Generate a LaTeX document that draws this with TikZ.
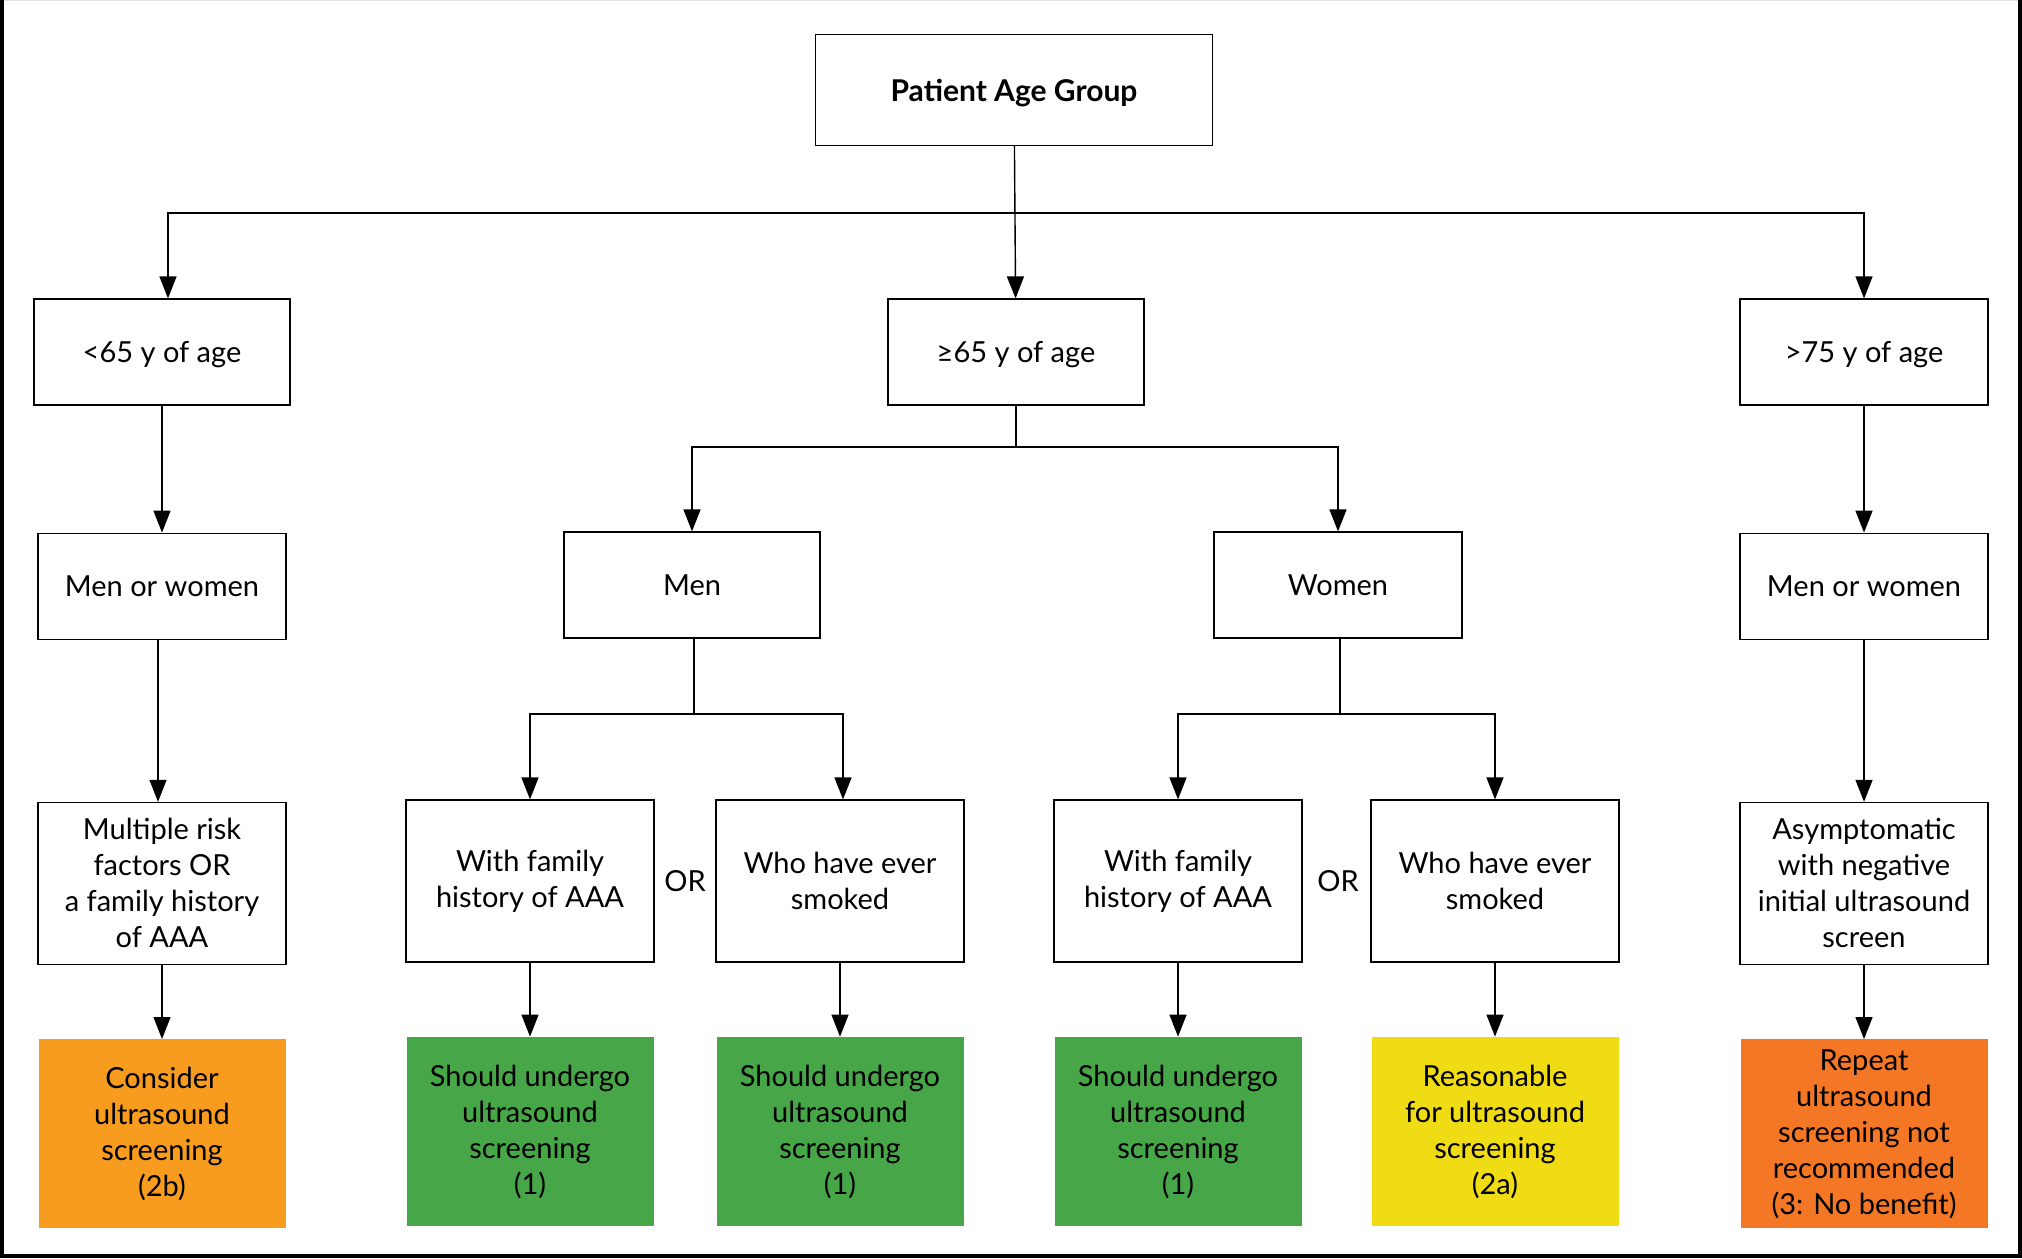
\documentclass[tikz,border=0pt]{standalone}
\usepackage{fontspec}
\setmainfont{Lato}
\usetikzlibrary{arrows.meta,positioning}
\definecolor{recOne}{HTML}{47A647}
\definecolor{recTwoA}{HTML}{F0DC14}
\definecolor{recTwoB}{HTML}{F89C20}
\definecolor{recThree}{HTML}{F47725}

\begin{document}
\begin{tikzpicture}[x=0.5pt,y=-0.5pt,
  >={Triangle[length=11pt,width=8.5pt]}, node distance=37pt,
  box/.style={draw,line width=0.6pt,align=center,font=\fontsize{14.5}{18}\selectfont,minimum width=124pt,minimum height=53pt,inner sep=2pt},
  oneline/.style={box,text depth=0pt},
  agebox/.style={oneline,minimum width=128pt},
  critbox/.style={box,minimum height=81pt},
  recbox/.style={align=center,font=\fontsize{14.5}{18}\selectfont,minimum width=123.5pt,minimum height=94.5pt,inner sep=2pt},
  link/.style={line width=0.7pt}]
  \useasboundingbox (0,0) rectangle (2022,1258);
  % frame
  \draw[black!12,line width=0.5pt] (0,0.5) -- (2022,0.5);
  \draw[line width=2pt] (1.5,0) -- (1.5,1256) -- (2020,1256) -- (2020,0);

  \node[oneline,minimum width=198.5pt,minimum height=55.5pt,font=\fontsize{15}{18}\selectfont\bfseries] (age) at (1014,90) {Patient Age Group};

  % age groups
  \node[agebox] (lt65) at (162,352) {<65 y of age};
  \node[agebox] (ge65) at (1016,352) {≥65 y of age};
  \node[oneline] (gt75) at (1864,352) {>75 y of age};

  % sex
  \node[oneline,below=63.5pt of lt65] (mwA) {Men or women};
  \node[agebox] (men) at (692,585) {Men};
  \node[oneline] (women) at (1338,585) {Women};
  \node[oneline,below=63.5pt of gt75] (mwD) {Men or women};

  % criteria
  \node[critbox,below=81pt of mwA] (riskA) {Multiple risk\\factors OR\\a family history\\of AAA};
  \node[critbox] (famM) at (530,881) {With family\\history of AAA};
  \node[critbox] (smkM) at (840,881) {Who have ever\\smoked};
  \node[critbox] (famW) at (1178,881) {With family\\history of AAA};
  \node[critbox] (smkW) at (1495,881) {Who have ever\\smoked};
  \node[critbox,below=81pt of mwD] (asym) {Asymptomatic\\with negative\\initial ultrasound\\screen};
  \node[font=\fontsize{14.5}{18}\selectfont] (orM) at (685,881) {OR};
  \node[font=\fontsize{14.5}{18}\selectfont] (orW) at (1338,881) {OR};

  % recommendations
  \node[recbox,fill=recTwoB,below=of riskA] (recA) {Consider\\ultrasound\\screening\\(2b)};
  \node[recbox,fill=recOne,below=of famM] (recFM) {Should undergo\\ultrasound\\screening\\(1)};
  \node[recbox,fill=recOne,below=of smkM] (recSM) {Should undergo\\ultrasound\\screening\\(1)};
  \node[recbox,fill=recOne,below=of famW] (recFW) {Should undergo\\ultrasound\\screening\\(1)};
  \node[recbox,fill=recTwoA,below=of smkW] (recSW) {Reasonable\\for ultrasound\\screening\\(2a)};
  \node[recbox,fill=recThree,below=of asym] (recD) {Repeat\\ultrasound\\screening not\\recommended\\(3: No benefit)};

  % connectors
  \coordinate (kAge) at (1014,213);
  \coordinate (kGe) at (1016,447);
  \coordinate (kMen) at (694,714);
  \coordinate (kWomen) at (1340,714);
  \draw[link,->] (age) -- (ge65);
  \draw[link,->] (kAge) -| ([xshift=3pt]lt65.north);
  \draw[link,->] (kAge) -| (gt75);
  \draw[link] (ge65) -- (kGe);
  \draw[link,->] (kGe) -| (men);
  \draw[link,->] (kGe) -| (women);
  \draw[link] (men.south -| kMen) -- (kMen);
  \draw[link,->] (kMen) -| (famM);
  \draw[link,->] (kMen) -| ([xshift=1.5pt]smkM.north);
  \draw[link] (women.south -| kWomen) -- (kWomen);
  \draw[link,->] (kWomen) -| (famW);
  \draw[link,->] (kWomen) -| (smkW);
  \draw[link,->] (lt65) -- (mwA);
  \draw[link,->] ([xshift=-2pt]mwA.south) -- ([xshift=-2pt]riskA.north);
  \draw[link,->] (riskA) -- (recA);
  \draw[link,->] (gt75) -- (mwD);
  \draw[link,->] (mwD) -- (asym);
  \draw[link,->] (asym) -- (recD);
  \draw[link,->] (famM) -- (recFM);
  \draw[link,->] (smkM.south -| recSM) -- (recSM);
  \draw[link,->] (famW) -- (recFW);
  \draw[link,->] (smkW) -- (recSW);
\end{tikzpicture}
\end{document}
